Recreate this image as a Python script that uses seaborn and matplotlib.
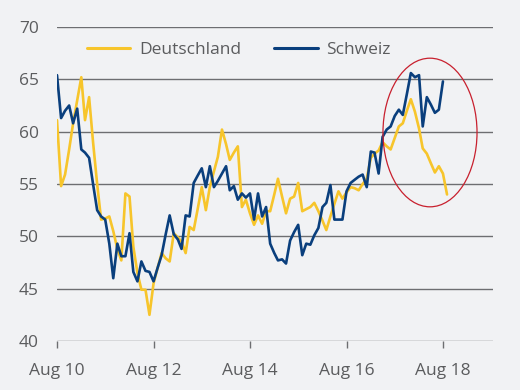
import numpy as np
import pandas as pd
import seaborn as sns
import matplotlib
matplotlib.use("Agg")
import matplotlib.pyplot as plt
import matplotlib.dates as mdates
from matplotlib.patches import Ellipse

# monthly PMI values, Aug 2010 onwards
deutschland = [
    61.1, 54.8, 55.9, 58.3, 60.8, 63.0, 65.2, 61.1, 63.3, 59.0,
    55.0, 51.6, 51.7, 51.9, 50.5, 48.8, 47.7, 54.1, 53.8, 49.0,
    46.5, 44.9, 44.9, 42.5, 45.5, 47.0, 48.4, 47.9, 47.6, 50.3,
    49.9, 49.5, 48.4, 50.9, 50.6, 52.6, 54.7, 52.5, 54.7, 56.2,
    57.6, 60.2, 58.8, 57.3, 58.0, 58.6, 52.8, 53.5, 52.2, 51.1,
    52.0, 51.2, 52.4, 52.4, 54.0, 55.5, 53.8, 52.2, 53.6, 53.8,
    55.1, 52.4, 52.6, 52.8, 53.2, 52.4, 51.5, 50.6, 51.9, 53.1,
    54.3, 53.6, 54.2, 54.7, 54.6, 54.4, 55.0, 55.5, 57.5, 57.9,
    58.2, 59.0, 58.6, 58.3, 59.4, 60.5, 60.8, 62.0, 63.1, 61.9,
    60.3, 58.4, 57.9, 57.0, 56.1, 56.7, 56.0, 54.0,
]
schweiz = [
    65.4, 61.3, 62.0, 62.5, 60.8, 62.2, 58.3, 58.0, 57.5, 55.0,
    52.5, 51.9, 51.6, 49.3, 46.0, 49.3, 48.1, 48.1, 50.3, 46.6,
    45.7, 47.6, 46.7, 46.6, 45.7, 47.0, 48.2, 50.2, 52.0, 50.2,
    49.7, 48.8, 52.0, 51.9, 55.1, 55.8, 56.5, 54.7, 56.7, 54.7,
    55.3, 56.0, 56.7, 54.4, 54.8, 53.5, 54.1, 53.7, 54.1, 51.6,
    54.1, 51.9, 52.8, 49.3, 48.4, 47.7, 47.8, 47.4, 49.6, 50.4,
    51.1, 48.2, 49.3, 49.2, 50.1, 50.8, 52.8, 53.2, 54.9, 51.6,
    51.6, 51.6, 54.3, 55.1, 55.4, 55.7, 55.9, 54.7, 58.1, 58.0,
    56.0, 59.5, 60.2, 60.5, 61.5, 62.1, 61.6, 63.6, 65.6, 65.2,
    65.4, 60.5, 63.3, 62.6, 61.8, 62.1, 64.8,
]
tick_dates = ["2010-08-01", "2012-08-01", "2014-08-01", "2016-08-01", "2018-08-01"]
tick_labels = ["Aug 10", "Aug 12", "Aug 14", "Aug 16", "Aug 18"]

df = pd.concat([
    pd.DataFrame({"date": pd.date_range("2010-08-01", periods=len(deutschland), freq="MS"),
                  "value": deutschland, "land": "Deutschland"}),
    pd.DataFrame({"date": pd.date_range("2010-08-01", periods=len(schweiz), freq="MS"),
                  "value": schweiz, "land": "Schweiz"}),
])

bg = "#f1f2f4"
grey = "#5b5c5e"
sns.set_theme(style="white")
plt.rcParams["font.family"] = ["Open Sans", "DejaVu Sans"]
plt.rcParams["figure.facecolor"] = bg
plt.rcParams["axes.facecolor"] = bg

fig = plt.figure(figsize=(5.2, 3.9), dpi=100)
ax = fig.add_axes([57 / 520, 1 - 341 / 390, 436 / 520, 314 / 390])

sns.lineplot(data=df, x="date", y="value", hue="land",
             palette={"Deutschland": "#f7c52b", "Schweiz": "#0a3f7d"},
             linewidth=1.9, ax=ax)

ax.set_ylim(40, 70)
ax.set_yticks(range(40, 71, 5))
ax.set_xlim(pd.Timestamp("2010-08-01"), pd.Timestamp("2019-08-15"))
ax.set_xticks(pd.to_datetime(tick_dates))
ax.set_xticklabels(tick_labels)
ax.set_xlabel("")
ax.set_ylabel("")

ax.grid(axis="y", color="#6d6e71", linewidth=1.0)
ax.grid(axis="x", visible=False)
for s in ax.spines.values():
    s.set_visible(False)
ax.tick_params(axis="y", length=0, pad=13, labelsize=12.5, labelcolor=grey)
ax.tick_params(axis="x", length=5, width=1, color="#6d6e71", direction="out",
               pad=11, labelsize=12.5, labelcolor=grey, bottom=True)

# red circle around the latest divergence
cx = mdates.date2num(pd.Timestamp("2018-04-25"))
ell = Ellipse((cx, 59.92), width=712, height=14.2, fill=False,
              edgecolor="#c8202e", linewidth=0.9, zorder=5)
ax.add_patch(ell)

handles, labels = ax.get_legend_handles_labels()
leg = ax.legend(handles, labels, loc="center left", bbox_to_anchor=(0.069, 0.927),
                ncol=2, frameon=False, borderpad=0, borderaxespad=0,
                handlelength=2.5, handletextpad=0.5, columnspacing=1.9,
                fontsize=12.5)
for t in leg.get_texts():
    t.set_color(grey)
for h in leg.get_lines():
    h.set_linewidth(2.2)

fig.savefig("out.png", dpi=100, facecolor=bg)
